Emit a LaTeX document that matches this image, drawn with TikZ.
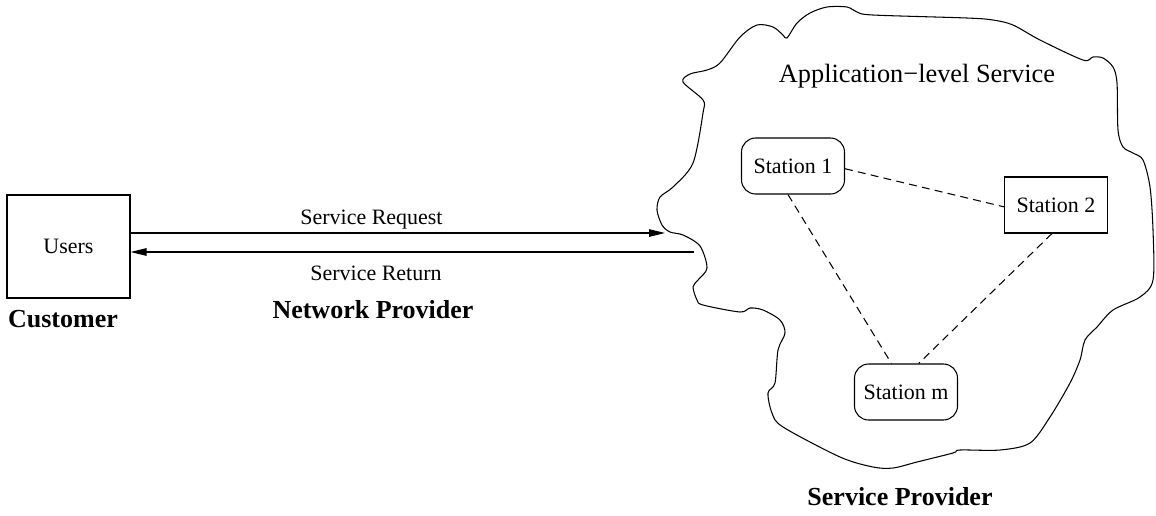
\documentclass[tikz,border=0pt]{standalone}
\usepackage{fontspec}
\setmainfont{Liberation Serif}
\usetikzlibrary{arrows.meta}
\begin{document}
\begin{tikzpicture}[x=0.02cm,y=-0.02cm,line width=0.6pt,
    txt/.style={font=\fontsize{12.5}{15}\selectfont},
    title/.style={font=\fontsize{14.8}{18}\selectfont\bfseries},
    station/.style={txt,draw,minimum width=2.06cm,minimum height=1.12cm},
    >={Triangle[length=3.2mm,width=1.5mm]}]
  \useasboundingbox (0,0) rectangle (1156,515);
  % the service cloud
  \draw plot[smooth cycle,tension=0.5] coordinates {
    (683,82) (690,74) (707,70) (720,63) (740,37) (757,25) (773,27) (783,35)
    (787,38) (797,23) (810,13) (827,7) (847,7) (857,12) (873,15) (967,18)
    (993,20) (1013,25) (1040,40) (1083,60) (1093,57) (1103,58) (1113,67)
    (1117,83) (1118,130) (1123,147) (1133,153) (1143,160) (1150,187)
    (1153,230) (1153,280) (1140,297) (1113,310) (1097,327) (1085,340)
    (1080,360) (1070,383) (1050,417) (1030,443) (1000,450) (960,450)
    (953,453) (917,462) (893,468) (873,467) (840,457) (783,427) (772,413)
    (768,393) (775,383) (778,350) (785,333) (780,320) (763,310) (750,308)
    (740,312) (703,305) (697,300) (693,287) (698,280) (707,268) (700,246)
    (683,235) (670,232) (662,225) (657,210) (660,197) (673,187) (693,163)
    (703,113) (703,100)};
  \node[txt,font=\fontsize{15}{18}\selectfont,anchor=base] (app) at (917,82) {Application−level Service};
  \node[station,rounded corners=8pt] (s1) at (793,166) {Station 1};
  \node[station] (s2) at (1056,205) {Station 2};
  \node[station,rounded corners=8pt] (sm) at (906,392) {Station m};
  \begin{scope}[dash pattern=on 4.5pt off 3pt]
    \draw (s1.-3) to (s2.182);
    \draw (s1.-100) to (sm.117);
    \draw (s2.-98) to (sm.66);
  \end{scope}
  \node[title,anchor=base] (sp) at (900,505) {Service Provider};
  % customer side
  \node[txt,draw,minimum width=2.46cm,minimum height=2.06cm] (users) at (68.5,246.5) {Users};
  \node[title,anchor=base] (cust) at (63,327) {Customer};
  \coordinate (reqend) at (665,233);
  \coordinate (retstart) at (694,252);
  \draw[->] (users.east |- reqend) -- (reqend);
  \draw[->] (retstart) -- (users.east |- retstart);
  \node[txt,anchor=base] (req) at (371.5,224) {Service Request};
  \node[txt,anchor=base] (ret) at (376,280) {Service Return};
  \node[title,anchor=base] (np) at (373,318) {Network Provider};
\end{tikzpicture}
\end{document}
